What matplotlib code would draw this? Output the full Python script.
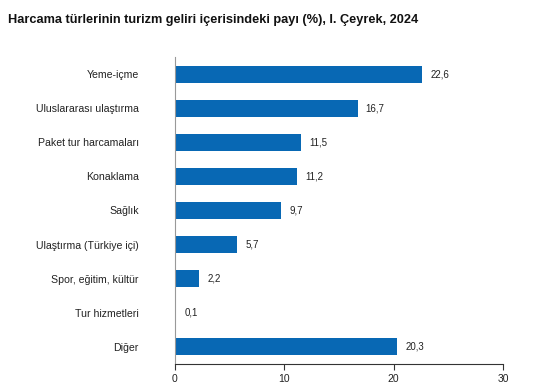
import numpy as np
import matplotlib
import matplotlib.pyplot as plt

categories = ["Yeme-içme", "Uluslararası ulaştırma", "Paket tur harcamaları",
              "Konaklama", "Sağlık", "Ulaştırma (Türkiye içi)",
              "Spor, eğitim, kültür", "Tur hizmetleri", "Diğer"]
values = [22.6, 16.7, 11.5, 11.2, 9.7, 5.7, 2.2, 0.1, 20.3]
value_labels = ["22,6", "16,7", "11,5", "11,2", "9,7", "5,7", "2,2", "0,1", "20,3"]

matplotlib.rcParams["font.family"] = ["Liberation Sans", "DejaVu Sans"]

fig = plt.figure(figsize=(5.46, 3.89), dpi=100)
ax = fig.add_axes([0.3205, 0.0643, 0.6007, 0.7892])

y = np.arange(len(categories))
ax.barh(y, values, height=0.5, color="#0868b4")

for yi, v, lab in zip(y, values, value_labels):
	ax.text(v + 0.75, yi, lab, va="center", ha="left", fontsize=7, color="#222222")

ax.set_ylim(8.5, -0.5)
ax.set_xlim(0, 30)
ax.set_xticks([0, 10, 20, 30])
ax.set_yticks(y)
ax.set_yticklabels(categories, fontsize=7.6, color="#222222")
ax.tick_params(axis="y", length=0, pad=26)
ax.tick_params(axis="x", length=4, width=0.8, color="#333333", labelsize=7.5, labelcolor="#222222")

for s in ["top", "right"]:
	ax.spines[s].set_visible(False)
ax.spines["left"].set_color("#999999")
ax.spines["left"].set_linewidth(0.8)
ax.spines["bottom"].set_color("#333333")
ax.spines["bottom"].set_linewidth(0.8)

fig.text(0.015, 0.965, "Harcama türlerinin turizm geliri içerisindeki payı (%), I. Çeyrek, 2024",
         fontsize=9.2, fontweight="bold", ha="left", va="top", color="#111111")

plt.savefig("out.png", dpi=100)
